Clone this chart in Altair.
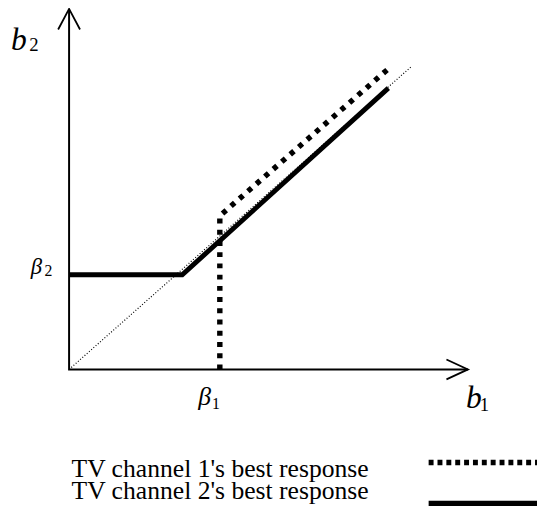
import altair as alt
import pandas as pd

# ---- data (model units: b1 on x, b2 on y) ----
beta1 = 4.41
beta2 = 3.13
diag_b1 = [0.0, 10.0]
diag_b2 = [0.0, 10.0]
br1_b1 = [4.41, 4.41, 9.37]          # TV channel 1's best response
br1_b2 = [0.0, 5.08, 9.97]
br2_b1 = [0.0, 3.31, 9.34]           # TV channel 2's best response
br2_b2 = [3.13, 3.13, 9.30]
b1_axis_end = 11.67
b2_axis_end = 11.92
legend_labels = ["TV channel 1's best response", "TV channel 2's best response"]

W, H = 537, 513
xs = alt.Scale(domain=[-1.787, 13.689], nice=False, zero=False)
ys = alt.Scale(domain=[-4.886, 11.824], nice=False, zero=False)
FONT = "Liberation Serif"


def enc_xy():
    return dict(x=alt.X("x:Q", scale=xs, axis=None), y=alt.Y("y:Q", scale=ys, axis=None))


def path(xv, yv, **kw):
    df = pd.DataFrame({"x": xv, "y": yv, "o": list(range(len(xv)))})
    return alt.Chart(df).mark_line(color="black", clip=False, **kw).encode(order="o:Q", **enc_xy())


def label(xv, yv, txt, dx, dy, size, italic=True):
    df = pd.DataFrame({"x": [xv], "y": [yv], "t": [txt]})
    return alt.Chart(df).mark_text(
        align="left", baseline="alphabetic", dx=dx, dy=dy, fontSize=size, font=FONT,
        fontStyle="italic" if italic else "normal", color="black",
    ).encode(text="t:N", **enc_xy())


layers = [
    # axes with open arrowheads
    path([0, 0, b1_axis_end], [b2_axis_end, 0, 0], strokeWidth=2),
    path([-0.32, 0, 0.32], [11.24, b2_axis_end, 11.24], strokeWidth=1.8),
    path([11.04, b1_axis_end, 11.04], [0.33, 0, -0.33], strokeWidth=1.8),
    # 45-degree line
    path(diag_b1, diag_b2, strokeWidth=1.2, strokeDash=[1, 2]),
    # best responses
    path(br2_b1, br2_b2, strokeWidth=5),
    path(br1_b1, br1_b2, strokeWidth=5.5, strokeDash=[5, 6.4]),
    # labels
    label(0, b2_axis_end, "b", -59, 42, 32),
    label(0, b2_axis_end, "2", -40.5, 43, 19, italic=False),
    label(b1_axis_end, 0, "b", -2, 39, 32),
    label(b1_axis_end, 0, "1", 12, 42, 19, italic=False),
    label(beta1, 0, "β", -22, 36, 26),
    label(beta1, 0, "1", -8, 40, 16, italic=False),
    label(0, beta2, "β", -39, -1, 23),
    label(0, beta2, "2", -25, 1, 16, italic=False),
]

# legend (drawn manually: labels left, line samples right)
leg_y_text = [472.5, 495]
leg_y_line = [457.5, 499]
for i, txt in enumerate(legend_labels):
    layers.append(
        alt.Chart(pd.DataFrame({"t": [txt]})).mark_text(
            align="left", baseline="alphabetic", fontSize=26, font=FONT, color="black"
        ).encode(text="t:N", x=alt.value(64.5), y=alt.value(leg_y_text[i]))
    )
layers.append(
    alt.Chart(pd.DataFrame({"k": [0]})).mark_rule(color="black", strokeWidth=5.5, strokeDash=[5, 4]).encode(
        x=alt.value(427), x2=alt.value(537), y=alt.value(leg_y_line[0]))
)
layers.append(
    alt.Chart(pd.DataFrame({"k": [0]})).mark_rule(color="black", strokeWidth=5.5).encode(
        x=alt.value(427), x2=alt.value(537), y=alt.value(leg_y_line[1]))
)

chart = alt.layer(*layers).properties(
    width=W, height=H, padding=0, autosize=alt.AutoSizeParams(type="none")
).configure_view(stroke=None)

chart.save("out.html", embed_options={"renderer": "svg", "actions": False})
